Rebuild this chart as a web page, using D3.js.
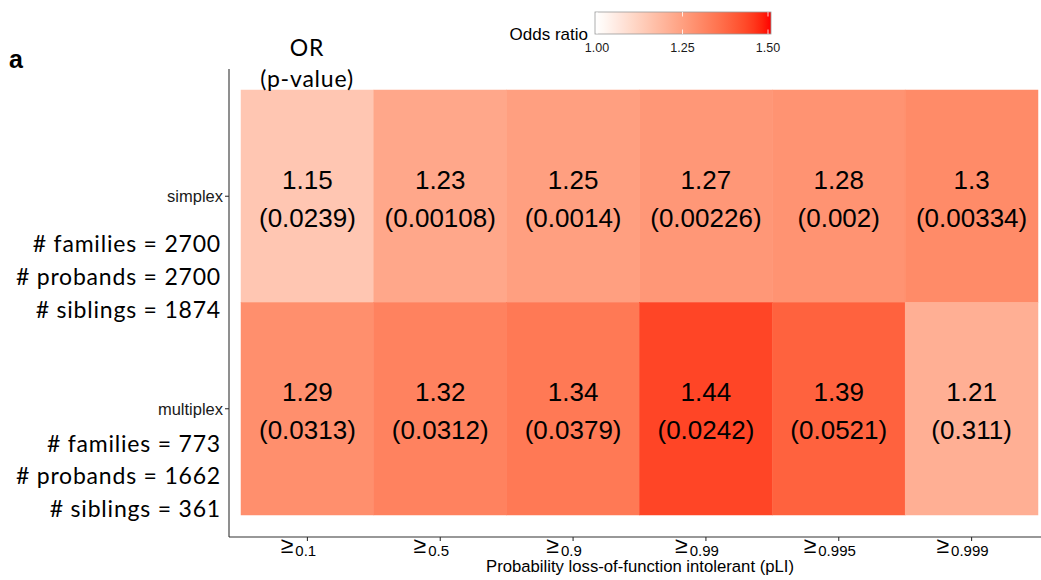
<!DOCTYPE html>
<html>
<head>
<meta charset="utf-8">
<script src="https://cdn.jsdelivr.net/npm/d3@7"></script>
<style>
  html, body { margin: 0; padding: 0; background: #fff; }
  svg { display: block; }
</style>
</head>
<body>
<svg id="chart" width="1041" height="580"></svg>
<script>
// pLI thresholds (columns) and family types (rows)
const thresholds = ["0.1", "0.5", "0.9", "0.99", "0.995", "0.999"];
const familyTypes = ["simplex", "multiplex"];

// Odds ratios and p-values per family type, one entry per threshold
const simplexOR = [1.15, 1.23, 1.25, 1.27, 1.28, 1.3];
const simplexP = ["0.0239", "0.00108", "0.0014", "0.00226", "0.002", "0.00334"];
const multiplexOR = [1.29, 1.32, 1.34, 1.44, 1.39, 1.21];
const multiplexP = ["0.0313", "0.0312", "0.0379", "0.0242", "0.0521", "0.311"];

// Cohort sizes shown beside each row
const simplexCounts = ["# families = 2700", "# probands = 2700", "# siblings = 1874"];
const multiplexCounts = ["# families = 773", "# probands = 1662", "# siblings = 361"];

// Legend ticks
const legendTicks = [1.00, 1.25, 1.50];

const cells = [];
thresholds.forEach((t, i) => {
  cells.push({ row: "simplex", col: t, or: simplexOR[i], p: simplexP[i] });
  cells.push({ row: "multiplex", col: t, or: multiplexOR[i], p: multiplexP[i] });
});
const counts = { simplex: simplexCounts, multiplex: multiplexCounts };
// baseline of the first count line, relative to the row centre
const countOffset = { simplex: 56, multiplex: 43 };

const svg = d3.select("#chart");

const x = d3.scaleBand().domain(thresholds).range([241, 1038]);
const y = d3.scaleBand().domain(familyTypes).range([90, 515]);
const color = d3.scaleLinear().domain([1, 1.5]).range(["#ffffff", "#ff0000"])
  .interpolate(d3.interpolateLab).clamp(true);

const axisColor = "#333333";
const sansArial = "Liberation Sans, Arial, sans-serif";
const sansCal = "Lato, Carlito, Calibri, sans-serif";

// Tiles (stroked in their own fill so neighbours meet without seams)
svg.append("g").selectAll("rect").data(cells).join("rect")
  .attr("x", d => x(d.col))
  .attr("y", d => y(d.row))
  .attr("width", x.bandwidth())
  .attr("height", y.bandwidth())
  .attr("fill", d => color(d.or))
  .attr("stroke", d => color(d.or))
  .attr("stroke-width", 0.5);

// Tile labels: OR on top, p-value in parentheses below
const labels = svg.append("g").attr("font-family", sansArial).attr("font-size", 26)
  .attr("fill", "#000").attr("text-anchor", "middle");
labels.selectAll("text.or").data(cells).join("text").attr("class", "or")
  .attr("x", d => x(d.col) + x.bandwidth() / 2)
  .attr("y", d => y(d.row) + y.bandwidth() / 2 - 7.5)
  .text(d => String(d.or));
labels.selectAll("text.p").data(cells).join("text").attr("class", "p")
  .attr("x", d => x(d.col) + x.bandwidth() / 2)
  .attr("y", d => y(d.row) + y.bandwidth() / 2 + 30.5)
  .text(d => "(" + d.p + ")");

// Axis lines
svg.append("line").attr("x1", 229).attr("x2", 229).attr("y1", 69).attr("y2", 537)
  .attr("stroke", axisColor).attr("stroke-width", 1.1);
svg.append("line").attr("x1", 229).attr("x2", 1041).attr("y1", 537).attr("y2", 537)
  .attr("stroke", axisColor).attr("stroke-width", 1.1);

// Y axis ticks, labels and cohort sizes
const yAxis = svg.append("g");
familyTypes.forEach(r => {
  const cy = y(r) + y.bandwidth() / 2;
  yAxis.append("line").attr("x1", 225).attr("x2", 229).attr("y1", cy).attr("y2", cy)
    .attr("stroke", axisColor).attr("stroke-width", 1.1);
  yAxis.append("text").attr("x", 223).attr("y", cy + 6)
    .attr("text-anchor", "end").attr("font-family", sansArial).attr("font-size", 16.5)
    .attr("fill", "#1a1a1a").text(r);
  counts[r].forEach((line, k) => {
    yAxis.append("text").attr("x", 221).attr("y", cy + countOffset[r] + k * 32.7)
      .attr("text-anchor", "end").attr("font-family", sansCal).attr("font-size", 23)
      .attr("letter-spacing", 0.8).attr("fill", "#000").text(line);
  });
});

// X axis ticks and labels
const xAxis = svg.append("g");
thresholds.forEach(t => {
  const cx = x(t) + x.bandwidth() / 2;
  xAxis.append("line").attr("x1", cx).attr("x2", cx).attr("y1", 537).attr("y2", 541)
    .attr("stroke", axisColor).attr("stroke-width", 1.1);
  const txt = xAxis.append("text").attr("x", cx - 9).attr("y", 553)
    .attr("text-anchor", "middle").attr("font-family", sansArial).attr("fill", "#000");
  txt.append("tspan").attr("font-size", 23).text("\u2265");
  txt.append("tspan").attr("font-size", 15).attr("dx", 2).attr("dy", 3).text(t);
});
svg.append("text").attr("x", 640).attr("y", 572).attr("text-anchor", "middle")
  .attr("font-family", sansArial).attr("font-size", 16.7).attr("fill", "#000")
  .text("Probability loss-of-function intolerant (pLI)");

// Column header
svg.append("text").attr("x", 307).attr("y", 56).attr("text-anchor", "middle")
  .attr("font-family", sansCal).attr("font-size", 23).attr("letter-spacing", 0.8)
  .attr("fill", "#000").text("OR");
svg.append("text").attr("x", 307).attr("y", 87).attr("text-anchor", "middle")
  .attr("font-family", sansCal).attr("font-size", 23).attr("letter-spacing", 0.8)
  .attr("fill", "#000").text("(p-value)");

// Panel tag
svg.append("text").attr("x", 9).attr("y", 68).attr("font-family", sansArial)
  .attr("font-weight", "bold").attr("font-size", 25).attr("fill", "#000").text("a");

// Colour bar legend
const lx = d3.scaleLinear().domain([1, 1.5]).range([597, 768]);
const barX0 = 595, barX1 = 771, barY0 = 12, barY1 = 34;
const defs = svg.append("defs");
const grad = defs.append("linearGradient").attr("id", "orGrad")
  .attr("x1", "0%").attr("x2", "100%").attr("y1", "0%").attr("y2", "0%");
d3.range(0, 1.0001, 0.05).forEach(f => {
  const v = lx.invert(barX0 + f * (barX1 - barX0));
  grad.append("stop").attr("offset", (f * 100) + "%").attr("stop-color", color(v));
});
const legend = svg.append("g");
legend.append("rect").attr("x", barX0).attr("y", barY0)
  .attr("width", barX1 - barX0).attr("height", barY1 - barY0)
  .attr("fill", "url(#orGrad)").attr("stroke", "#9a9a9a").attr("stroke-width", 0.8);
legendTicks.forEach(v => {
  const tx = lx(v);
  legend.append("line").attr("x1", tx).attr("x2", tx).attr("y1", barY0).attr("y2", barY0 + 4.5)
    .attr("stroke", "#fff").attr("stroke-width", 0.8);
  legend.append("line").attr("x1", tx).attr("x2", tx).attr("y1", barY1 - 4.5).attr("y2", barY1)
    .attr("stroke", "#fff").attr("stroke-width", 0.8);
  legend.append("text").attr("x", tx).attr("y", 52).attr("text-anchor", "middle")
    .attr("font-family", sansArial).attr("font-size", 12.5).attr("fill", "#1a1a1a")
    .text(v.toFixed(2));
});
legend.append("text").attr("x", 588).attr("y", 40).attr("text-anchor", "end")
  .attr("font-family", sansArial).attr("font-size", 17).attr("fill", "#000")
  .text("Odds ratio");
</script>
</body>
</html>
